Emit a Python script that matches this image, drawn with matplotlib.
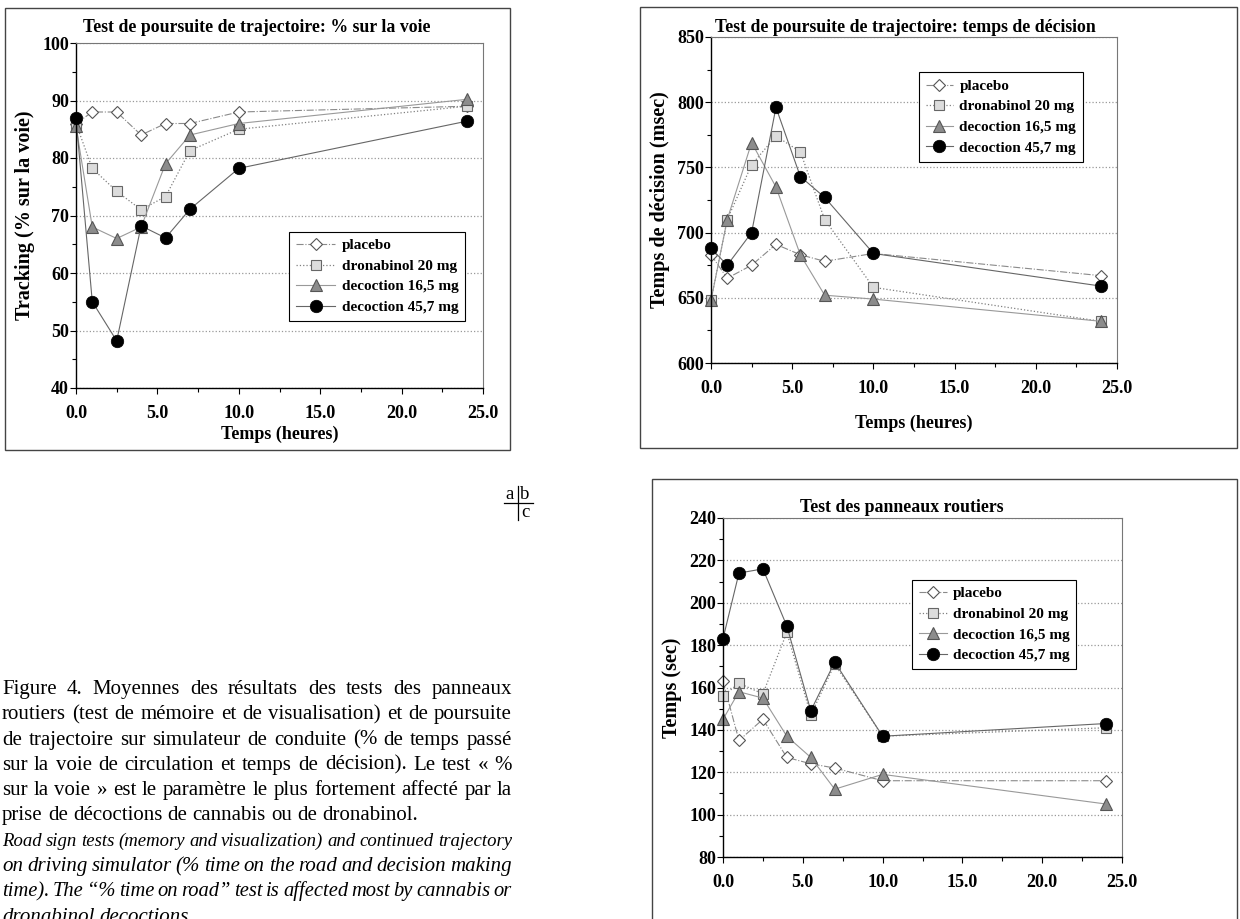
import matplotlib
matplotlib.use("Agg")
import matplotlib.pyplot as plt
from matplotlib.lines import Line2D
from matplotlib.patches import Rectangle
from matplotlib.ticker import MultipleLocator, FixedLocator, FixedFormatter

# ---- data ----
hours = [0, 1, 2.5, 4, 5.5, 7, 10, 24]
labels = ['placebo', 'dronabinol 20 mg', 'decoction 16,5 mg', 'decoction 45,7 mg']

# a: % sur la voie
track_placebo = [86, 88, 88, 84, 86, 86, 88, 89]
track_dronabinol = [86, 78.2, 74.2, 71, 73.3, 81.3, 85, 89]
track_dec165 = [85.5, 68, 66, 68, 79, 84, 86, 90.2]
track_dec457 = [87, 55, 48.2, 68.2, 66.1, 71.1, 78.2, 86.4]

# b: temps de decision (msec)
dec_placebo = [683, 665, 675, 691, 683, 678, 684, 667]
dec_dronabinol = [648, 710, 752, 774, 762, 710, 658, 632]
dec_dec165 = [648, 710, 769, 735, 683, 652, 649, 632]
dec_dec457 = [688, 675, 700, 796, 743, 727, 684, 659]

# c: panneaux routiers (sec)
sign_placebo = [163, 135, 145, 127, 124, 122, 116, 116]
sign_dronabinol = [156, 162, 157, 186, 147, 171, 137, 141]
sign_dec165 = [145, 158, 155, 137, 127, 112, 119, 105]
sign_dec457 = [183, 214, 216, 189, 149, 172, 137, 143]

x_ticks = [0, 5, 10, 15, 20, 25]
x_ticklabels = ['0.0', '5.0', '10.0', '15.0', '20.0', '25.0']

caption_fr = [
    "Figure 4. Moyennes des résultats des tests des panneaux",
    "routiers (test de mémoire et de visualisation) et de poursuite",
    "de trajectoire sur simulateur de conduite (% de temps passé",
    "sur la voie de circulation et temps de décision). Le test « %",
    "sur la voie » est le paramètre le plus fortement affecté par la",
    "prise de décoctions de cannabis ou de dronabinol.",
]
caption_en = [
    "Road sign tests (memory and visualization) and continued trajectory",
    "on driving simulator (% time on the road and decision making",
    "time). The “% time on road” test is affected most by cannabis or",
    "dronabinol decoctions.",
]

SERIF = 'Liberation Serif'
W, H = 1240, 919
plt.rcParams['font.family'] = SERIF

styles = [
    dict(marker='D', ms=6.5, mfc='white', mec='#555555', mew=0.8, color='#8a8a8a', ls='-.', lw=0.8),
    dict(marker='s', ms=7, mfc='#dcdcdc', mec='#666666', mew=0.8, color='#808080', ls=':', lw=0.9),
    dict(marker='^', ms=8, mfc='#8c8c8c', mec='#555555', mew=0.8, color='#999999', ls='-', lw=0.8),
    dict(marker='o', ms=9, mfc='black', mec='black', mew=0.5, color='#666666', ls='-', lw=0.8),
]


def fx(x):
    return x / W


def fy(y):
    return 1 - y / H


fig = plt.figure(figsize=(12.4, 9.19), dpi=100)


def panel(box, series, ylim, ymaj, ymin, ylabel, xlabel, title, tpos, leg, ylx, xly, hlen):
    l, t, r, b = box
    ax = fig.add_axes([fx(l), fy(b), fx(r) - fx(l), fy(t) - fy(b)])
    for vals, st, lab in zip(series, styles, labels):
        ax.plot(hours, vals, label=lab, clip_on=False, **st)
    ax.set_xlim(0, 25)
    ax.set_ylim(*ylim)
    ax.xaxis.set_major_locator(FixedLocator(x_ticks))
    ax.xaxis.set_major_formatter(FixedFormatter(x_ticklabels))
    ax.xaxis.set_minor_locator(MultipleLocator(2.5))
    ax.yaxis.set_major_locator(MultipleLocator(ymaj))
    ax.yaxis.set_minor_locator(MultipleLocator(ymin))
    ax.tick_params(which='both', direction='out', width=0.8, colors='black')
    ax.tick_params(which='major', length=4)
    ax.tick_params(which='minor', length=3)
    ax.tick_params(axis='y', pad=1)
    ax.tick_params(axis='x', pad=8)
    for lab in ax.get_xticklabels() + ax.get_yticklabels():
        lab.set_fontsize(13)
        lab.set_fontweight('bold')
    ax.yaxis.grid(True, ls=':', color='#999999', lw=0.9)
    ax.set_axisbelow(True)
    for s in ['left', 'bottom']:
        ax.spines[s].set_color('black')
        ax.spines[s].set_linewidth(1.0)
    for s in ['top', 'right']:
        ax.spines[s].set_color('#777777')
        ax.spines[s].set_linewidth(0.8)
    ax.set_ylabel(ylabel, fontsize=14.5, fontweight='bold')
    ax.yaxis.set_label_coords(ylx, 0.5)
    if xlabel:
        ax.set_xlabel(xlabel, fontsize=13, fontweight='bold')
        ax.xaxis.set_label_coords(0.5, xly)
    fig.text(fx(tpos[0]), fy(tpos[1]), title, ha='center', va='baseline',
             fontsize=12.8, fontweight='bold')
    lg = ax.legend(loc='upper right', bbox_to_anchor=leg, frameon=True, fancybox=False,
                   framealpha=1, edgecolor='black', handlelength=hlen, handletextpad=0.4,
                   borderpad=0.45, labelspacing=0.45,
                   prop={'family': SERIF, 'weight': 'bold', 'size': 11})
    lg.get_frame().set_linewidth(0.8)
    return ax


panel((76, 43, 483, 388),
      [track_placebo, track_dronabinol, track_dec165, track_dec457],
      (40, 100), 10, 5, 'Tracking (% sur la voie)', 'Temps (heures)',
      'Test de poursuite de trajectoire: % sur la voie', (257, 32),
      (0.975, 0.475), -0.10, -0.11, 2.6)

panel((711, 37, 1117, 363),
      [dec_placebo, dec_dronabinol, dec_dec165, dec_dec457],
      (600, 850), 50, 25, 'Temps de décision (msec)', 'Temps (heures)',
      'Test de poursuite de trajectoire: temps de décision', (905, 32),
      (0.935, 0.915), -0.10, -0.16, 1.8)

panel((723, 518, 1122, 857),
      [sign_placebo, sign_dronabinol, sign_dec165, sign_dec457],
      (80, 240), 20, 10, 'Temps (sec)', None,
      'Test des panneaux routiers', (902, 512),
      (0.905, 0.84), -0.103, None, 1.8)

# outer frames around each chart
for l, t, r, b in [(5, 8, 510, 450), (640, 7, 1237, 448), (652, 479, 1237, 930)]:
    fig.patches.append(Rectangle((fx(l), fy(b)), fx(r) - fx(l), fy(t) - fy(b),
                                 transform=fig.transFigure, fill=False,
                                 edgecolor='#444444', lw=1.0))

# a | b over c key
fig.text(fx(510), fy(499), 'a', ha='center', va='baseline', fontsize=13.5)
fig.text(fx(525), fy(499), 'b', ha='center', va='baseline', fontsize=13.5)
fig.text(fx(525), fy(517), 'c', ha='center', va='baseline', fontsize=13.5)
fig.lines.append(Line2D([fx(517.5), fx(517.5)], [fy(486), fy(520)], transform=fig.transFigure,
                        color='black', lw=0.9))
fig.lines.append(Line2D([fx(504), fx(533)], [fy(502.5), fy(502.5)], transform=fig.transFigure,
                        color='black', lw=0.9))

# justified caption
renderer = fig.canvas.get_renderer()
X0, X1 = 2, 512


def put_line(text, y, size, style, justify):
    while True:
        words = text.split(' ')
        items = [fig.text(0, fy(y), w, fontsize=size, style=style, fontweight='normal',
                          ha='left', va='baseline') for w in words]
        widths = [it.get_window_extent(renderer).width for it in items]
        space = 0.25 * size * 100 / 72
        if len(words) > 1 and justify:
            gap = (X1 - X0 - sum(widths)) / (len(words) - 1)
        else:
            gap = space
        if gap >= 0.55 * space or not justify:
            break
        for it in items:
            it.remove()
        size -= 0.25
    x = X0
    for it, w in zip(items, widths):
        it.set_x(fx(x))
        x += w + gap


y = 694
for i, line in enumerate(caption_fr):
    put_line(line, y, 15, 'normal', i < len(caption_fr) - 1)
    y += 25.3
for i, line in enumerate(caption_en):
    put_line(line, y, 15, 'italic', i < len(caption_en) - 1)
    y += 25.3

fig.savefig('out.png', dpi=100)
